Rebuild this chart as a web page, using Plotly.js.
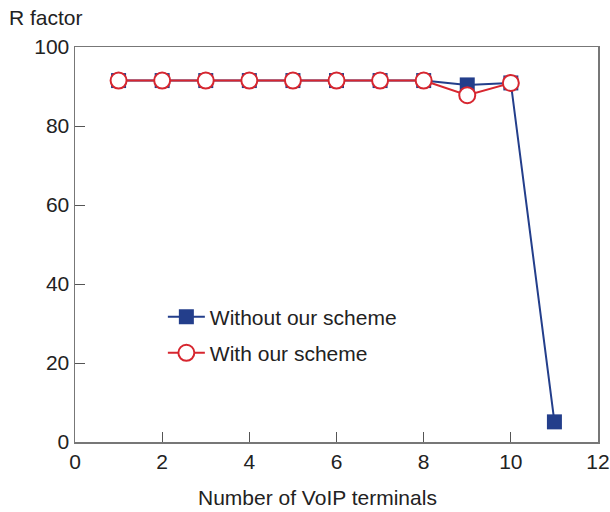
<!DOCTYPE html>
<html><head><meta charset="utf-8">
<script src="https://cdn.plot.ly/plotly-3.0.1.min.js"></script>
<style>html,body{margin:0;padding:0;background:#fff}</style>
</head><body>
<div id="chart" style="width:610px;height:512px"></div>
<script>
var terminals = [1,2,3,4,5,6,7,8,9,10,11];
var withoutScheme = [91.5,91.5,91.5,91.5,91.5,91.5,91.5,91.5,90.4,90.9,5.1];
var terminalsWith = [1,2,3,4,5,6,7,8,9,10];
var withScheme = [91.5,91.5,91.5,91.5,91.5,91.5,91.5,91.5,87.8,90.9];
var xTicks = [0,2,4,6,8,10,12];
var yTicks = [0,20,40,60,80,100];

var font = {family:'Liberation Sans, Arial, sans-serif', size:21, color:'#222'};
var traces = [
 {x:terminals, y:withoutScheme, name:'Without our scheme', mode:'lines+markers', legend:'legend',
  line:{color:'#233E8B', width:2}, marker:{symbol:'square', size:15, color:'#233E8B'}},
 {x:terminalsWith, y:withScheme, name:'With our scheme', mode:'lines+markers', legend:'legend2',
  line:{color:'#D7262F', width:2}, marker:{symbol:'circle', size:16, color:'#fff', line:{color:'#D7262F', width:2}}}
];
var layout = {
 width:610, height:512, margin:{l:75, r:12, t:47, b:70},
 paper_bgcolor:'#fff', plot_bgcolor:'#fff', font:font, showlegend:true,
 xaxis:{range:[0,12], tickvals:xTicks, ticks:'inside', ticklen:10, tickcolor:'#555', tickwidth:1,
   showgrid:false, zeroline:false, showline:true, linecolor:'#777', linewidth:1.5, mirror:true},
 yaxis:{range:[0,100], tickvals:yTicks, ticks:'inside', ticklen:10, tickcolor:'#555', tickwidth:1,
   showgrid:false, zeroline:false, showline:true, linecolor:'#777', linewidth:1.5, mirror:true},
 legend:{x:0.168, y:0.316, xanchor:'left', yanchor:'middle', itemwidth:37, bgcolor:'rgba(0,0,0,0)', font:font},
 legend2:{x:0.168, y:0.225, xanchor:'left', yanchor:'middle', itemwidth:37, bgcolor:'rgba(0,0,0,0)', font:font},
 annotations:[
  {text:'R factor', xref:'paper', yref:'paper', x:-0.13, y:1.04, xanchor:'left', yanchor:'bottom',
   showarrow:false, font:font},
  {text:'Number of VoIP terminals', xref:'paper', yref:'paper', x:0.463, y:-0.14, xanchor:'center', yanchor:'middle',
   showarrow:false, font:font}]
};
Plotly.newPlot('chart', traces, layout, {displayModeBar:false, staticPlot:true});
</script>
</body></html>
